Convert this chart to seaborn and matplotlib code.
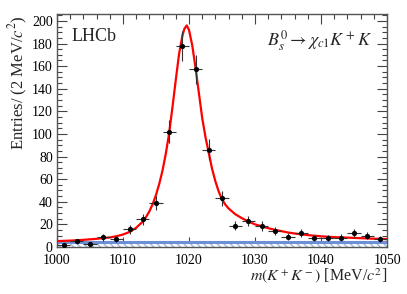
import numpy as np
import pandas as pd
import matplotlib
matplotlib.use("Agg")
import matplotlib.pyplot as plt
import seaborn as sns
from matplotlib.ticker import MultipleLocator

# ---- data ----
bin_centers = [1001, 1003, 1005, 1007, 1009, 1011, 1013, 1015, 1017, 1019, 1021,
               1023, 1025, 1027, 1029, 1031, 1033, 1035, 1037, 1039, 1041, 1043,
               1045, 1047, 1049]
entries = [2, 5, 3, 8.6, 6.8, 15.6, 24.5, 39, 102, 178, 157,
           86, 43, 18.9, 23, 18.3, 14, 9.1, 12.1, 7.7, 7.7, 8.2,
           12, 10, 7]
entry_err = [1.5, 2.2, 1.7, 2.9, 2.6, 3.9, 4.9, 6.2, 10.1, 13.3, 12.5,
             9.3, 6.6, 4.3, 4.8, 4.3, 3.7, 3.0, 3.5, 2.8, 2.8, 2.9,
             3.5, 3.2, 2.6]
bin_half_width = 1.0

fit_x = [1000, 1002, 1004, 1006, 1008, 1009, 1010, 1011, 1012, 1013, 1013.5,
         1014, 1014.5, 1015, 1015.5, 1016, 1016.5, 1017, 1017.5, 1018, 1018.5,
         1019, 1019.3, 1019.65, 1020, 1020.5, 1021, 1021.5, 1022, 1022.5, 1023,
         1023.5, 1024, 1024.5, 1025, 1025.5, 1026, 1027, 1028, 1029, 1030, 1031,
         1032, 1033, 1034, 1035, 1036, 1038, 1040, 1042, 1045, 1048, 1050]
fit_y = [5.2, 5.6, 6.3, 7.2, 8.4, 9.5, 11, 13.3, 17.0, 22.5, 26.5,
         31.5, 38, 46, 56, 68, 83, 101, 124, 148, 171,
         187, 193, 196, 192, 178, 158, 136, 114, 97, 83,
         69, 58, 49, 42, 37.5, 34, 29, 25.5, 22.5, 20, 18.3,
         16.6, 15.2, 14, 12.8, 11.9, 10.5, 9.4, 8.7, 8.0, 7.3, 7.0]

bkg_x = [1000, 1050]
bkg_y = [4.3, 4.3]

x_label = r"$m(K^+K^-)$ [MeV/$c^2$]"
y_label = r"Entries/ (2 MeV/$c^2$)"
tag_text = "LHCb"
decay_text = r"$B_s^0 \rightarrow \chi_{c1}K^+K$"

# ---- style ----
sns.set_style("ticks")
plt.rcParams["font.family"] = ["Liberation Serif", "DejaVu Serif"]
plt.rcParams["mathtext.fontset"] = "stix"

fig = plt.figure(figsize=(4.07, 2.94), dpi=100)
ax = fig.add_axes([0.140, 0.160, 0.811, 0.792])

df_pts = pd.DataFrame({"m": bin_centers, "n": entries, "e": entry_err})
df_fit = pd.DataFrame({"m": fit_x, "n": fit_y})
df_bkg = pd.DataFrame({"m": bkg_x, "n": bkg_y})

# background band (hatched)
ax.fill_between(df_bkg["m"], 0, df_bkg["n"] - 0.6, facecolor="white",
                edgecolor="#9db9e6", hatch="\\\\\\\\\\", linewidth=0, zorder=1)
sns.lineplot(data=df_bkg, x="m", y="n", color="#6d8fd6", lw=2.2, ax=ax, zorder=2)

# fit curve
sns.lineplot(data=df_fit, x="m", y="n", color="#ff0000", lw=1.6, ax=ax,
             zorder=4, sort=False)

# data points
ax.errorbar(df_pts["m"], df_pts["n"], yerr=df_pts["e"], xerr=bin_half_width,
            fmt="none", ecolor="#333333", elinewidth=0.8, capsize=0, zorder=5)
sns.scatterplot(data=df_pts, x="m", y="n", color="black", s=14,
                edgecolor="black", linewidth=0, ax=ax, zorder=6)

ax.set_xlim(1000, 1050)
ax.set_ylim(0, 206)

ax.xaxis.set_major_locator(MultipleLocator(10))
ax.xaxis.set_minor_locator(MultipleLocator(2))
ax.yaxis.set_major_locator(MultipleLocator(20))
ax.yaxis.set_minor_locator(MultipleLocator(5))
ax.tick_params(which="both", direction="in", top=True, right=True,
               color="#444444", labelsize=10, labelcolor="black")
ax.tick_params(which="major", length=7, width=0.8)
ax.tick_params(which="minor", length=3.5, width=0.8)
ax.tick_params(axis="x", which="major", pad=5)
ax.tick_params(axis="y", which="major", pad=3)
for s in ax.spines.values():
    s.set_color("#555555")
    s.set_linewidth(1.0)

ax.set_xlabel("")
ax.set_ylabel("")
fig.text(0.951, 0.03, x_label, ha="right", va="bottom", fontsize=11.5)
fig.text(0.045, 0.72, y_label, ha="center", va="center", rotation=90,
         fontsize=12)

ax.text(0.045, 0.94, tag_text, transform=ax.transAxes, ha="left", va="top",
        fontsize=13)
ax.text(0.955, 0.94, decay_text, transform=ax.transAxes, ha="right", va="top",
        fontsize=13)

fig.savefig("out.png", dpi=100)
